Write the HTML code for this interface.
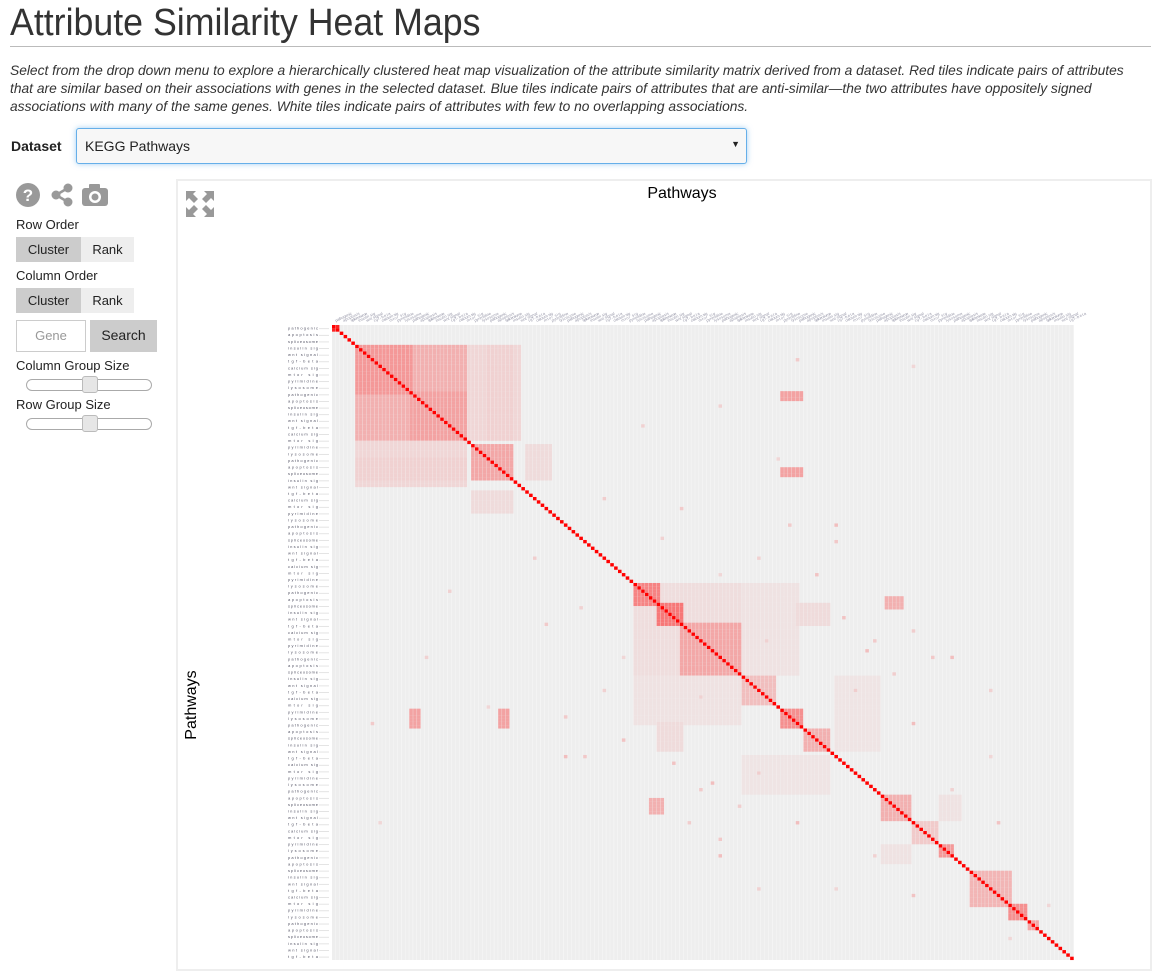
<!DOCTYPE html>
<html><head><meta charset="utf-8">
<style>
body{margin:0;width:1161px;height:978px;background:#fff;font-family:"Liberation Sans",sans-serif;color:#333;position:relative;overflow:hidden}
.abs{position:absolute}
h1{position:absolute;left:10px;top:2px;margin:0;font-size:38px;font-weight:normal;color:#333;transform:scaleX(0.94);transform-origin:left top;white-space:nowrap}
.p{position:absolute;left:10px;font-size:14px;font-style:italic;white-space:nowrap;transform-origin:left top;color:#333}
.btn{position:absolute;height:25px;line-height:25px;font-size:13px;text-align:center;color:#222}
.lbl{position:absolute;left:16px;font-size:13px;color:#222}
.slider{position:absolute;left:26px;width:124px;height:10px;border:1px solid #aaa;border-radius:6px;background:#fff}
.thumb{position:absolute;width:14px;height:15px;top:-4px;left:55px;background:#e6e6e6;border:1px solid #bbb;border-radius:3px}
</style></head><body>
<h1>Attribute Similarity Heat Maps</h1>
<div class="abs" style="left:10px;top:46px;width:1141px;height:1px;background:#bbb"></div>
<div>
<div class="p" style="top:62px;transform:scaleX(0.985)">Select from the drop down menu to explore a hierarchically clustered heat map visualization of the attribute similarity matrix derived from a dataset. Red tiles indicate pairs of attributes</div>
<div class="p" style="top:80px;transform:scaleX(0.985)">that are similar based on their associations with genes in the selected dataset. Blue tiles indicate pairs of attributes that are anti-similar—the two attributes have oppositely signed</div>
<div class="p" style="top:98px;transform:scaleX(0.985)">associations with many of the same genes. White tiles indicate pairs of attributes with few to no overlapping associations.</div>
</div>
<div class="abs" style="left:11px;top:138px;font-size:14px;font-weight:bold;color:#222">Dataset</div>
<div class="abs" style="left:76px;top:128px;width:669px;height:34px;border:1px solid #66afe9;border-radius:3px;background:#f7f7f7;box-shadow:0 0 6px rgba(102,175,233,.6)">
<span style="position:absolute;left:8px;top:9px;font-size:14px;color:#222">KEGG Pathways</span>
<span style="position:absolute;right:6px;top:10px;font-size:9px;color:#222">▼</span>
</div>

<svg class="abs" style="left:14px;top:181px" width="100" height="28">
<g><circle cx="14" cy="14" r="12" fill="#999"/><text x="14" y="20" font-size="17" font-weight="bold" text-anchor="middle" fill="#fff" font-family="Liberation Sans">?</text></g>
<g fill="#999" stroke="#999"><line x1="42" y1="14" x2="54" y2="7" stroke-width="2.5"/><line x1="42" y1="14" x2="54" y2="21" stroke-width="2.5"/><circle cx="42" cy="14" r="4"/><circle cx="54" cy="7" r="4"/><circle cx="54" cy="21" r="4"/></g>
<g><rect x="68" y="7" width="26" height="18" rx="3" fill="#999"/><rect x="75" y="3" width="11" height="6" rx="1" fill="#999"/><circle cx="81" cy="16" r="6" fill="#fff"/><circle cx="81" cy="16" r="3.5" fill="#999"/></g>
</svg>
<div class="lbl" style="top:217px">Row Order</div>
<div class="btn" style="left:16px;top:237px;width:65px;background:#ccc">Cluster</div>
<div class="btn" style="left:81px;top:237px;width:53px;background:#eee">Rank</div>
<div class="lbl" style="top:268px">Column Order</div>
<div class="btn" style="left:16px;top:288px;width:65px;background:#ccc">Cluster</div>
<div class="btn" style="left:81px;top:288px;width:53px;background:#eee">Rank</div>
<div class="abs" style="left:16px;top:320px;width:68px;height:30px;border:1px solid #ccc;font-size:13px;color:#999;line-height:30px;text-align:center">Gene</div>
<div class="btn" style="left:90px;top:320px;width:67px;height:32px;line-height:30px;background:#ccc;font-size:14px">Search</div>
<div class="lbl" style="top:358px">Column Group Size</div>
<div class="slider" style="top:379px"><div class="thumb"></div></div>
<div class="lbl" style="top:397px">Row Group Size</div>
<div class="slider" style="top:418px"><div class="thumb"></div></div>

<div class="abs" style="left:176px;top:179px;width:972px;height:788px;border:2px solid #eee"></div>
<svg class="abs" style="left:186px;top:191px" width="30" height="27">
<g fill="#999"><polygon points="0,0 10,0 7,3 12,8 8,12 3,7 0,10"/><polygon points="28,0 18,0 21,3 16,8 20,12 25,7 28,10"/><polygon points="0,26 10,26 7,23 12,18 8,14 3,19 0,16"/><polygon points="28,26 18,26 21,23 16,18 20,14 25,19 28,16"/></g>
</svg>
<div class="abs" style="left:600px;top:185px;width:164px;text-align:center;font-size:16px;color:#000">Pathways</div>
<div class="abs" style="left:152px;top:696px;width:80px;text-align:center;font-size:16px;color:#000;transform:rotate(-90deg)">Pathways</div>

<svg id="hm" class="abs" style="left:0;top:0" width="1161" height="978"></svg>

<script>
const N = 192;
const labelNames = ["pathogenic","cell cycle","apoptosis","ribosome","spliceosome","focal adhesion","insulin sig","mapk sig","wnt signal","p53 signal","tgf-beta","jak-stat","calcium sig","ppar sig","mtor sig","purine met","pyrimidine","glycolysis","lysosome","endocytosis"];
const blockStart = [0, 6, 6, 20, 36, 78, 78, 84, 90, 106, 116, 122, 142, 150, 157, 165, 175, 180];
const blockEnd   = [1, 34, 20, 34, 46, 105, 84, 90, 105, 114, 121, 128, 149, 156, 160, 175, 179, 182];
const blockValue = [0.85, 0.26, 0.36, 0.32, 0.3, 0.07, 0.45, 0.5, 0.3, 0.2, 0.4, 0.26, 0.26, 0.15, 0.36, 0.24, 0.4, 0.3];
const offRows0 = [6, 20, 43, 82, 6, 36, 78, 106, 142, 84];
const offRows1 = [34, 22, 45, 85, 34, 46, 105, 128, 149, 90];
const offCols0 = [34, 116, 116, 143, 40, 50, 106, 130, 157, 120];
const offCols1 = [48, 121, 121, 147, 46, 56, 120, 141, 162, 128];
const offVals  = [0.1, 0.32, 0.32, 0.26, 0.12, 0.08, 0.05, 0.04, 0.05, 0.08];
const scatRow = [10,12,30,55,60,70,75,95,100,110,118,125,135,140,150,155,170,52,64,88,92,98,112,130,145,160,172,185,24,40];
const scatCol = [120,150,80,90,130,110,100,140,160,170,60,75,110,95,120,100,130,70,85,132,150,138,95,65,105,140,150,175,100,115];
const scatVal = [0.15,0.1,0.12,0.15,0.2,0.12,0.1,0.15,0.2,0.12,0.15,0.18,0.14,0.12,0.2,0.16,0.1,0.14,0.12,0.18,0.14,0.2,0.12,0.16,0.14,0.12,0.18,0.1,0.12,0.1];

const X0 = 332, Y0 = 325, W = 742, H = 635;
const cw = W / N, ch = H / N;
const xPos = i => X0 + i * cw;
const yPos = i => Y0 + i * ch;
const NS = "http://www.w3.org/2000/svg";
const svg = document.getElementById('hm');

const M = [];
for (let i = 0; i < N; i++) { M.push(new Float32Array(N)); }
function setMax(r, c, v) { if (r < N && c < N) { M[r][c] = Math.max(M[r][c], v); M[c][r] = Math.max(M[c][r], v); } }
for (let b = 0; b < blockStart.length; b++)
  for (let r = blockStart[b]; r <= blockEnd[b]; r++)
    for (let c = blockStart[b]; c <= blockEnd[b]; c++) setMax(r, c, blockValue[b]);
for (let b = 0; b < offRows0.length; b++)
  for (let r = offRows0[b]; r <= offRows1[b]; r++)
    for (let c = offCols0[b]; c <= offCols1[b]; c++) setMax(r, c, offVals[b]);
for (let k = 0; k < scatRow.length; k++) setMax(scatRow[k], scatCol[k], scatVal[k]);
for (let i = 0; i < N; i++) M[i][i] = 1;

function color(v) {
  const r = Math.round(238 + 17 * v), g = Math.round(238 * (1 - v));
  return `rgb(${r},${g},${g})`;
}
const bg = document.createElementNS(NS, 'rect');
bg.setAttribute('x', X0); bg.setAttribute('y', Y0); bg.setAttribute('width', W); bg.setAttribute('height', H);
bg.setAttribute('fill', '#f8f8f8');


svg.appendChild(bg);
const cols = document.createElementNS(NS, 'g');


svg.appendChild(cols);
for (let c = 0; c < N; c++) {
  const r = document.createElementNS(NS, 'rect');
  r.setAttribute('x', xPos(c)); r.setAttribute('y', Y0); r.setAttribute('width', cw - 0.5); r.setAttribute('height', H);
  r.setAttribute('fill', '#eeeeee');
  cols.appendChild(r);
}
const cells = document.createElementNS(NS, 'g');


svg.appendChild(cells);
for (let r = 0; r < N; r++) for (let c = 0; c < N; c++) {
  const v = M[r][c];
  if (v <= 0) continue;
  const el = document.createElementNS(NS, 'rect');
  el.setAttribute('x', xPos(c).toFixed(2)); el.setAttribute('y', yPos(r).toFixed(2));
  el.setAttribute('width', (cw - 0.3).toFixed(2)); el.setAttribute('height', (ch + 0.05).toFixed(2));
  el.setAttribute('fill', color(v));
  
  
  cells.appendChild(el);
}
const rl = document.createElementNS(NS, 'g');


svg.appendChild(rl);
for (let r = 0; r < N; r += 2) {
  const t = document.createElementNS(NS, 'text');
  t.setAttribute('x', 288); t.setAttribute('y', yPos(r) + ch * 1.4);
  t.setAttribute('font-size', '4'); t.setAttribute('fill', '#556');
  t.setAttribute('font-family', 'Liberation Sans, sans-serif');
  t.setAttribute('textLength', '30');
  t.textContent = labelNames[r % labelNames.length];
  rl.appendChild(t);
  const ln = document.createElementNS(NS, 'rect');
  ln.setAttribute('x', 319); ln.setAttribute('y', yPos(r) + ch); ln.setAttribute('width', 10); ln.setAttribute('height', 0.8);
  ln.setAttribute('fill', '#ddd');
  rl.appendChild(ln);
}
const cl = document.createElementNS(NS, 'g');


svg.appendChild(cl);
for (let c = 0; c < N; c += 2) {
  const t = document.createElementNS(NS, 'text');
  const x = xPos(c) + cw, y = Y0 - 3;
  t.setAttribute('x', x); t.setAttribute('y', y);
  t.setAttribute('transform', `rotate(-25 ${x} ${y})`);
  t.setAttribute('font-size', '4'); t.setAttribute('fill', '#99a');
  t.setAttribute('font-family', 'Liberation Sans, sans-serif');
  t.setAttribute('textLength', '18');
  t.textContent = labelNames[c % labelNames.length];
  cl.appendChild(t);
}
</script>
</body></html>
